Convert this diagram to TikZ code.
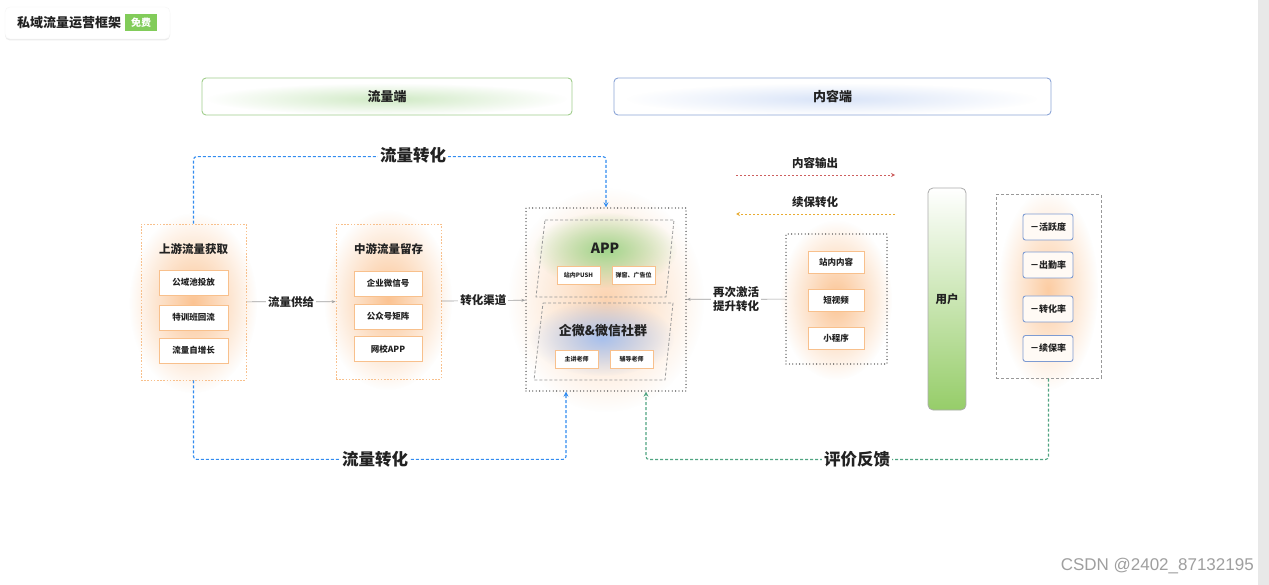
\documentclass[tikz,border=0pt]{standalone}
\usepackage{fontspec}
\setmainfont{Noto Sans CJK SC}
\newfontfamily\wmfont{Liberation Sans}
\usetikzlibrary{arrows.meta,calc,fadings,shadows}
\tikzfading[name=glowfade, inner color=transparent!0, outer color=transparent!100]
\definecolor{txt}{HTML}{222222}
\definecolor{obord}{RGB}{248,192,140}
\definecolor{oglow}{RGB}{250,170,100}
\definecolor{gglow}{RGB}{120,195,90}
\definecolor{blglow}{RGB}{130,165,230}
\definecolor{bdash}{RGB}{50,140,240}
\definecolor{tdash}{RGB}{80,165,130}
\definecolor{rdash}{RGB}{205,95,95}
\definecolor{ydash}{RGB}{232,172,50}
\definecolor{tagg}{RGB}{130,204,90}
\definecolor{hgreen}{RGB}{160,205,140}
\definecolor{hblue}{RGB}{140,165,215}
\definecolor{mblue}{RGB}{125,155,210}
\definecolor{ugreen}{RGB}{150,205,105}
\definecolor{sbar}{RGB}{232,232,232}
\begin{document}
\begin{tikzpicture}[x=1pt,y=-1pt,
  every node/.style={inner sep=0pt, text=txt},
  fz/.style={font=\fontsize{#1}{#1}\selectfont\bfseries},
  glow/.style={fill=#1, path fading=glowfade},
  obox/.style={draw=obord, line width=0.8pt, dash pattern=on 1.6pt off 1.6pt},
  ibox/.style={draw=obord, fill=white, line width=0.9pt, minimum width=69pt, minimum height=25pt, fz=8.5},
  sbox/.style={draw=obord, fill=white, line width=0.9pt, minimum width=43pt, minimum height=18pt, fz=6},
  cbox/.style={draw=obord, fill=white, line width=0.9pt, minimum width=56pt, minimum height=22pt, fz=8.5},
  mbox/.style={draw=mblue, fill=orange!4, rounded corners=2.5pt, line width=0.9pt, minimum width=50pt, minimum height=26pt, fz=9},
  dotbox/.style={draw=black!80, line width=1.3pt, line cap=round, dash pattern=on 0pt off 3.4pt},
  gline/.style={draw=gray!75, line width=0.7pt, -{Stealth[length=4pt,width=3pt]}},
  bline/.style={draw=bdash, line width=1.1pt, dash pattern=on 3pt off 2pt, rounded corners=3pt, -{Stealth[length=5pt,width=5pt]}},
  tline/.style={draw=tdash, line width=1.1pt, dash pattern=on 3pt off 2pt, rounded corners=3pt, -{Stealth[length=5pt,width=5pt]}},
  lab/.style={fill=white, inner sep=2pt}
]
\useasboundingbox (0,0) rectangle (1269,585);
\fill[white] (0,0) rectangle (1269,585);
\fill[sbar] (1258,0) rectangle (1269,585);

% ---- glows ----
\fill[glow=gglow!35] (387,99) ellipse (180 and 16);
\fill[glow=blglow!30] (832,99) ellipse (205 and 16);
\fill[glow=oglow!70] (193,303) ellipse (64 and 90);
\fill[glow=oglow!70] (388,300) ellipse (64 and 90);
\fill[glow=oglow!50] (606,300) ellipse (98 and 112);
\fill[glow=gglow!70] (605,250) ellipse (72 and 38);
\fill[glow=blglow!70] (602,338) ellipse (72 and 38);
\fill[glow=oglow!70] (836,300) ellipse (56 and 80);
\fill[glow=oglow!60] (1048,290) ellipse (50 and 100);

% ---- title card ----
\node[draw=gray!8, fill=white, rounded corners=5pt, minimum width=165pt, minimum height=32pt,
      drop shadow={opacity=0.15, shadow xshift=0pt, shadow yshift=-1.5pt}] (card) at (87.5,23) {};
\node[anchor=west, fz=13] (ttl) at (17,23) {私域流量运营框架};
\node[fill=tagg, minimum width=32pt, minimum height=17pt, fz=10, text=white] (tag) at (141,22.5) {免费};

% ---- headers ----
\node[draw=hgreen, rounded corners=4pt, line width=0.9pt, minimum width=370pt, minimum height=37pt, fz=13] (h1) at (387,96.5) {流量端};
\node[draw=hblue, rounded corners=4pt, line width=0.9pt, minimum width=437pt, minimum height=37pt, fz=13] (h2) at (832.5,96.5) {内容端};

% ---- upstream ----
\node[obox, minimum width=105pt, minimum height=156pt] (L) at (193.5,302) {};
\node[fz=11.5] (Lt) at (193.5,249) {上游流量获取};
\node[ibox] (L1) at (193.5,282.5) {公域池投放};
\node[ibox] (L2) at (193.5,317.5) {特训班回流};
\node[ibox] (L3) at (193.5,350.5) {流量自增长};

% ---- midstream ----
\node[obox, minimum width=105pt, minimum height=155pt] (M) at (388.5,301.5) {};
\node[fz=11.5] (Mt) at (388.5,249) {中游流量留存};
\node[ibox, minimum width=68pt] (M1) at (388,283.5) {企业微信号};
\node[ibox, minimum width=68pt] (M2) at (388,316.5) {公众号矩阵};
\node[ibox, minimum width=68pt] (M3) at (388,349) {网校APP};

% ---- center ----
\node[dotbox, minimum width=160pt, minimum height=183pt] (C) at (606,299.5) {};
\draw[gray!80, line width=0.8pt, dash pattern=on 3pt off 2pt] (545,220) -- (674,220) -- (666,297) -- (536,297) -- cycle;
\draw[gray!80, line width=0.8pt, dash pattern=on 3pt off 2pt] (543,303) -- (673,303) -- (665,380) -- (534,380) -- cycle;
\node[fz=14] (app) at (605,248) {APP};
\node[sbox] (A1) at (578.5,275) {站内PUSH};
\node[sbox] (A2) at (633.5,275) {弹窗、广告位};
\node[fz=13] (wx) at (603,331) {企微\&微信社群};
\node[sbox] (W1) at (576.5,359) {主讲老师};
\node[sbox] (W2) at (631.5,359) {辅导老师};

% ---- content ----
\node[dotbox, minimum width=101pt, minimum height=130pt] (R) at (836.5,299) {};
\node[cbox] (R1) at (836,262) {站内内容};
\node[cbox] (R2) at (836,300) {短视频};
\node[cbox] (R3) at (836,338) {小程序};

% ---- output arrows ----
\node[fz=11.5] (out) at (815,163) {内容输出};
\coordinate (ro1) at (736,175);
\coordinate (ro2) at (895,175);
\draw[rdash, line width=0.9pt, dash pattern=on 2pt off 2pt, -{Stealth[length=4pt,width=4pt]}] (ro1) -- (ro2);
\node[fz=11.5] (ren) at (815,202) {续保转化};
\coordinate (yo1) at (895,214);
\coordinate (yo2) at (736,214);
\draw[ydash, line width=0.9pt, dash pattern=on 2pt off 2pt, -{Stealth[length=4pt,width=4pt]}] (yo1) -- (yo2);

% ---- user ----
\node[draw=gray!65, line width=0.8pt, rounded corners=5pt, minimum width=38pt, minimum height=222pt,
      top color=white, middle color=ugreen!45, bottom color=ugreen, fz=11.5] (U) at (947,299) {用户};

% ---- metrics ----
\node[draw=gray!80, line width=1pt, dash pattern=on 3pt off 2pt, minimum width=105pt, minimum height=183pt] (Mx) at (1048.5,286.5) {};
\node[mbox] (X1) at (1048,227) {－活跃度};
\node[mbox] (X2) at (1048,265) {－出勤率};
\node[mbox] (X3) at (1048,309) {－转化率};
\node[mbox] (X4) at (1048,348.5) {－续保率};

% ---- connectors ----
\draw[gline] (L) -- node[lab, fz=11.5] (f1) {流量供给} (M);
\draw[gline] (M) -- node[lab, fz=11.5] (f2) {转化渠道} (C);
\draw[gline] (R) -- node[lab, fz=11.5, align=center] (f3) {再次激活\\[2pt]提升转化} (C);

\draw[bline] (L.north) -- ++(0,-67) -| (C.north);
\node[lab, fz=16.5] (t1) at (413,155) {流量转化};
\draw[bline] (L.south) -- ++(0,79) -| ($(C.south)+(-40,0)$);
\node[lab, fz=16.5] (t2) at (375,459) {流量转化};
\draw[tline] (Mx.south) -- ++(0,81) -| ($(C.south)+(40,0)$);
\node[lab, fz=16.5] (t3) at (857,459) {评价反馈};

% ---- watermark ----
\node[anchor=east, font=\wmfont\fontsize{17}{19}\selectfont, text=gray!75] (wm) at (1254,566) {CSDN @2402\_87132195};
\end{tikzpicture}
\end{document}
